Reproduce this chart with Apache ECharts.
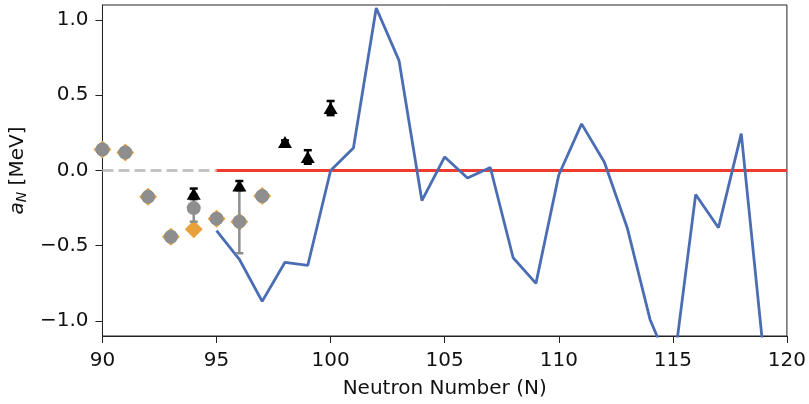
<!DOCTYPE html>
<html>
<head>
<meta charset="utf-8">
<script src="https://cdn.jsdelivr.net/npm/echarts@6/dist/echarts.min.js"></script>
<style>
  html, body { margin: 0; padding: 0; background: #fff; }
  #chart { width: 809px; height: 404px; }
</style>
</head>
<body>
<div id="chart"></div>
<script>
// theory curve (blue)
const theoryN = [95, 96, 97, 98, 99, 100, 101, 102, 103, 104, 105, 106, 107, 108, 109, 110, 111, 112, 113, 114, 115, 116, 117, 118, 119]
const theoryVal = [-0.40, -0.59, -0.87, -0.61, -0.63, 0.00, 0.15, 1.08, 0.73, -0.20, 0.09, -0.05, 0.02, -0.58, -0.75, -0.03, 0.31, 0.055, -0.38, -0.99, -1.35, -0.16, -0.38, 0.245, -1.25]

// orange diamonds
const diamondN = [90, 91, 92, 93, 94, 95, 96, 97]
const diamondVal = [0.14, 0.12, -0.175, -0.44, -0.39, -0.32, -0.34, -0.17]

// gray circles + error
const circleN = [90, 91, 92, 93, 94, 95, 96, 97]
const circleVal = [0.14, 0.12, -0.175, -0.44, -0.25, -0.32, -0.34, -0.17]
const circleErr = [0, 0, 0, 0, 0.09, 0, 0.21, 0]

// black triangles + error
const triN = [94, 96, 98, 99, 100]
const triVal = [-0.155, -0.10, 0.19, 0.09, 0.415]
const triErr = [0.035, 0.03, 0.01, 0.045, 0.047]

// zero reference lines
const dashedN = [90, 95]
const redN = [95, 120]

const yTicks = [-1, -0.5, 0, 0.5, 1]

const fontFamily = 'DejaVu Sans'

function pairs(xs, ys) {
  return xs.map((x, i) => [x, ys[i]])
}
function errData(xs, ys, es) {
  return xs.map((x, i) => [x, ys[i] - es[i], ys[i] + es[i]])
}
function errRender(color) {
  return function (params, api) {
    const x = api.value(0)
    const lo = api.coord([x, api.value(1)])
    const hi = api.coord([x, api.value(2)])
    const cap = 4
    const style = { stroke: color, lineWidth: 2.5 }
    return {
      type: 'group',
      children: [
        { type: 'line', shape: { x1: lo[0], y1: lo[1], x2: hi[0], y2: hi[1] }, style: style },
        { type: 'line', shape: { x1: lo[0] - cap, y1: lo[1], x2: lo[0] + cap, y2: lo[1] }, style: style },
        { type: 'line', shape: { x1: hi[0] - cap, y1: hi[1], x2: hi[0] + cap, y2: hi[1] }, style: style }
      ]
    }
  }
}

const option = {
  animation: false,
  grid: {
    left: 102, right: 21, top: 5, bottom: 67,
    show: true, borderColor: '#222', borderWidth: 1
  },
  xAxis: {
    type: 'value',
    min: 90, max: 120, interval: 5,
    name: 'Neutron Number (N)',
    nameLocation: 'middle',
    nameGap: 43,
    nameTextStyle: { fontSize: 20, color: '#111', fontFamily: fontFamily },
    splitLine: { show: false },
    axisLine: { onZero: false, lineStyle: { color: '#222' } },
    axisTick: { show: true, length: 7, lineStyle: { color: '#222' } },
    axisLabel: { fontSize: 20, color: '#111', fontFamily: fontFamily, margin: 15 }
  },
  yAxis: {
    type: 'value',
    min: -1.1, max: 1.1,
    name: '{it|a}{sub|N} [MeV]',
    nameLocation: 'middle',
    nameRotate: 90,
    nameGap: 69,
    nameTextStyle: {
      fontSize: 20, color: '#111', fontFamily: fontFamily,
      rich: {
        it: { fontSize: 20, fontStyle: 'italic', fontFamily: fontFamily, color: '#111' },
        sub: { fontSize: 14, fontStyle: 'italic', fontFamily: fontFamily, color: '#111', verticalAlign: 'bottom', padding: [8, 0, 0, 0] }
      }
    },
    splitLine: { show: false },
    axisLine: { show: true, onZero: false, lineStyle: { color: '#222' } },
    axisTick: { show: true, length: 7, customValues: yTicks, lineStyle: { color: '#222' } },
    axisLabel: {
      fontSize: 20, color: '#111', fontFamily: fontFamily, margin: 14,
      customValues: yTicks,
      formatter: v => (v < 0 ? '\u2212' + Math.abs(v).toFixed(1) : v.toFixed(1))
    }
  },
  series: [
    {
      type: 'line', z: 1,
      data: dashedN.map(x => [x, 0]),
      symbol: 'none',
      lineStyle: { color: '#c4c4c4', width: 3, type: [11, 5] }
    },
    {
      type: 'line', z: 2,
      data: redN.map(x => [x, 0]),
      symbol: 'none',
      lineStyle: { color: '#ee3a2f', width: 3.2 }
    },
    {
      type: 'line', z: 3,
      data: pairs(theoryN, theoryVal),
      symbol: 'none',
      clip: true,
      lineStyle: { color: '#4a6db3', width: 2.8 }
    },
    {
      type: 'scatter', z: 4,
      data: pairs(diamondN, diamondVal),
      symbol: 'diamond', symbolSize: 18,
      itemStyle: { color: '#e9a23b', opacity: 1 }
    },
    {
      type: 'custom', z: 5,
      data: errData(circleN, circleVal, circleErr).filter((d, i) => circleErr[i] > 0),
      renderItem: errRender('#8e8e8e')
    },
    {
      type: 'scatter', z: 6,
      data: pairs(circleN, circleVal),
      symbol: 'circle', symbolSize: 14,
      itemStyle: { color: '#8e8e8e', opacity: 1 }
    },
    {
      type: 'custom', z: 7,
      data: errData(triN, triVal, triErr),
      renderItem: errRender('#000')
    },
    {
      type: 'scatter', z: 8,
      data: pairs(triN, triVal),
      symbol: 'triangle', symbolSize: [14, 12],
      itemStyle: { color: '#000', opacity: 1 }
    }
  ]
}

const chart = echarts.init(document.getElementById('chart'))
chart.setOption(option)
</script>
</body>
</html>
